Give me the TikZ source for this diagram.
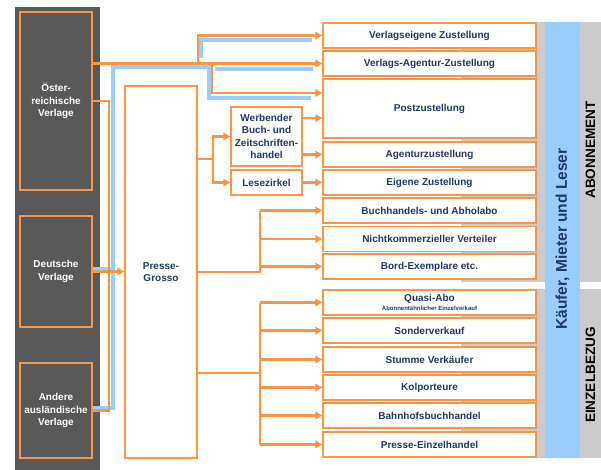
\documentclass[tikz,border=0pt]{standalone}
\usepackage{fontspec}
\setmainfont{Liberation Sans}
\usetikzlibrary{arrows.meta}
\definecolor{org}{RGB}{247,150,70}
\definecolor{navy}{RGB}{31,56,100}
\definecolor{darkp}{RGB}{89,89,89}
\definecolor{lblue}{RGB}{153,204,255}
\definecolor{lgray}{RGB}{203,203,203}
\begin{document}
\begin{tikzpicture}[x=1pt,y=-1pt,
  rbox/.style={draw=org, line width=1.4pt, fill=white, minimum width=213pt, minimum height=25pt, inner sep=0pt, font=\bfseries\fontsize{10}{12}\selectfont, text=navy, align=center},
  pbox/.style={draw=org, line width=1.4pt, fill=darkp, minimum width=72pt, inner sep=0pt, font=\bfseries\fontsize{10}{12.5}\selectfont, text=white, align=center},
  mbox/.style={draw=org, line width=1.4pt, fill=white, minimum width=71pt, inner sep=0pt, font=\bfseries\fontsize{10}{12.5}\selectfont, text=navy, align=center},
  oline/.style={draw=org, line width=2.4pt},
  oarrow/.style={draw=org, line width=2.4pt, -{Triangle[length=7pt,width=7.5pt]}},
  bline/.style={draw=lblue, line width=4pt},
  sidelabel/.style={rotate=90, font=\bfseries\fontsize{13.6}{14}\selectfont, text=black}
]
\useasboundingbox (0,0) rectangle (601,470);
\fill[white] (0,0) rectangle (601,470);
% left dark panel
\fill[darkp] (15,7) rectangle (100,470);
% grey and blue columns
\fill[lgray] (461,22) rectangle (545,282);
\fill[lgray] (461,289) rectangle (545,458);
\fill[lblue] (545,22) rectangle (580,458);
\fill[lgray] (580,22) rectangle (601,282);
\fill[lgray] (580,289) rectangle (601,458);
\node[rotate=90, font=\bfseries\fontsize{15.5}{18}\selectfont, text=navy] (kml) at (562.5,239) {Käufer, Mieter und Leser};
\node[sidelabel] (abo) at (590.5,150) {ABONNEMENT};
\node[sidelabel] (ein) at (590.5,375) {EINZELBEZUG};

% publishers
\node[pbox, minimum height=178pt] (p1) at (56,101) {Öster-\\reichische\\Verlage};
\node[pbox, minimum height=111pt] (p2) at (56,271.5) {Deutsche\\Verlage};
\node[pbox, minimum height=95pt] (p3) at (56,410.5) {Andere\\ausländische\\Verlage};

% Presse-Grosso
\node[mbox, minimum width=72pt, minimum height=372pt] (pg) at (161,272) {Presse-\\Grosso};
% middle boxes
\node[mbox, minimum height=59pt] (wb) at (266.5,136.5) {Werbender\\Buch- und\\Zeitschriften-\\handel};
\node[mbox, minimum height=25pt] (lz) at (266.5,182.5) {Lesezirkel};

% right boxes
\node[rbox] (r1) at (429.5,35.5) {Verlagseigene Zustellung};
\node[rbox] (r2) at (429.5,63.5) {Verlags-Agentur-Zustellung};
\node[rbox, minimum height=59pt] (r3) at (429.5,108.5) {Postzustellung};
\node[rbox] (r4) at (429.5,154.5) {Agenturzustellung};
\node[rbox] (r5) at (429.5,182.5) {Eigene Zustellung};
\node[rbox] (r6) at (429.5,210.5) {Buchhandels- und Abholabo};
\node[rbox] (r7) at (429.5,239) {Nichtkommerzieller Verteiler};
\node[rbox] (r8) at (429.5,266.5) {Bord-Exemplare etc.};
\node[rbox] (r9) at (429.5,302.5) {Quasi-Abo\\[-3pt]{\fontsize{6}{7}\selectfont Abonnentähnlicher Einzelverkauf}};
\node[rbox] (r10) at (429.5,330.5) {Sonderverkauf};
\node[rbox] (r11) at (429.5,359.5) {Stumme Verkäufer};
\node[rbox] (r12) at (429.5,387.5) {Kolporteure};
\node[rbox] (r13) at (429.5,415.5) {Bahnhofsbuchhandel};
\node[rbox] (r14) at (429.5,444.5) {Presse-Einzelhandel};

% blue lines
\coordinate (bE1) at (311,98);
\coordinate (bE2) at (312,40);
\coordinate (bE3) at (313,69);
\draw[bline] ([yshift=2.5pt]p3.east) -| (113,67) -| (209,98) -- (bE1);
\draw[bline] ([yshift=2.5pt]p2.east) -- (113,269);
\draw[bline] (201,58) |- (bE2);
\draw[bline] (215,69) -- (bE3);

% orange connectors from publishers
\draw[oarrow] (p1.east |- r2.west) -- (r2.west);
\draw[oarrow] (pg.east |- r2.west) |- (r1.west);
\draw[oarrow] (212,63.5) |- ([yshift=15.5pt]r3.west);
\draw[oline] (p1.east) -| (109,410.5) -- (p3.east);
\draw[oarrow] (p2.east) -- (p2.east -| pg.west);

% Presse-Grosso to middle boxes
\coordinate (jA) at (213,159);
\draw[oline] ([yshift=113pt]pg.east) -- (jA);
\draw[oarrow] (jA) |- (wb.west);
\draw[oarrow] (jA) |- (lz.west);
\path ([yshift=18.5pt]wb.east) coordinate (w1);
\draw[oarrow] (w1) -- (w1 -| r3.west);
\draw[oarrow] (wb.east |- r4.west) -- (r4.west);
\draw[oarrow] (lz.east) -- (r5.west);

% Presse-Grosso group 1
\coordinate (jB) at (260,272);
\draw[oline] (pg.east) -- (jB) -- (jB |- r6.west);
\foreach \n in {r6,r7,r8} \draw[oarrow] (jB |- \n.west) -- (\n.west);
% Presse-Grosso group 2
\coordinate (jC) at (260,373);
\draw[oline] ([yshift=-101pt]pg.east) -- (jC);
\draw[oline] (jC |- r9.west) -- (jC |- r14.west);
\foreach \n in {r9,r10,r11,r12,r13,r14} \draw[oarrow] (jC |- \n.west) -- (\n.west);
\end{tikzpicture}
\end{document}
